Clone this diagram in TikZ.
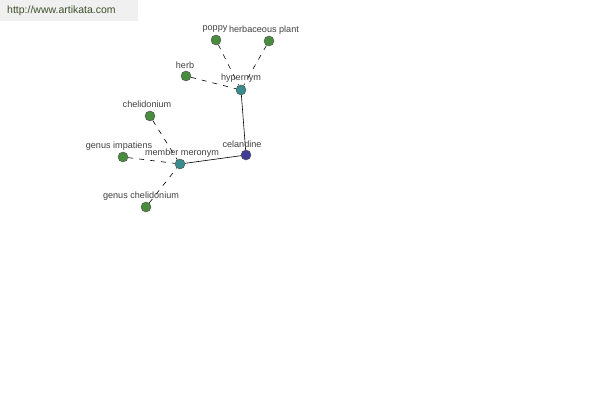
\documentclass[tikz,border=0pt]{standalone}
\usepackage{fontspec}
\setmainfont{Liberation Sans}
\definecolor{ngreen}{RGB}{74,140,62}
\definecolor{nteal}{RGB}{58,140,140}
\definecolor{nblue}{RGB}{62,62,150}
\definecolor{urlc}{RGB}{60,80,40}
\begin{document}
\begin{tikzpicture}[x=1pt,y=-1pt,
  dot/.style={circle,draw=black!70,line width=0.4pt,minimum size=10pt,inner sep=0pt},
  gdot/.style={dot,fill=ngreen},
  tdot/.style={dot,fill=nteal},
  bdot/.style={dot,fill=nblue},
  lab/.style={font=\fontsize{9.1}{9.5}\selectfont,text=black!75,inner sep=0pt},
  dline/.style={dashed,dash pattern=on 5pt off 6pt,black,line width=0.6pt},
  sline/.style={black,line width=0.6pt}]
\useasboundingbox (0,0) rectangle (600,400);
\fill[black!6] (0,0) rectangle (138,21);
\node[font=\fontsize{10.5}{11}\selectfont,text=urlc,anchor=west,inner sep=0pt] (url) at (7,11) {http://www.artikata.com};
\node[gdot] (poppy) at (216,40) {};
\node[gdot] (herbp) at (269,41) {};
\node[gdot] (herb) at (186,76) {};
\node[gdot] (chel) at (150,116) {};
\node[gdot] (gimp) at (123,157) {};
\node[gdot] (gchel) at (146,207) {};
\node[tdot] (hyp) at (241,90) {};
\node[tdot] (mm) at (180,164) {};
\node[bdot] (cel) at (246,155) {};
\draw[dline] (poppy) -- (hyp);
\draw[dline] (herbp) -- (hyp);
\draw[dline] (herb) -- (hyp);
\draw[dline] (chel) -- (mm);
\draw[dline] (gimp) -- (mm);
\draw[dline] (gchel) -- (mm);
\draw[sline] (hyp) -- (cel);
\draw[sline] (mm) -- (cel);
\node[lab] (lpoppy) at (215,29) {poppy};
\node[lab] (lherbp) at (264,30) {herbaceous plant};
\node[lab] (lherb) at (185,65) {herb};
\node[lab] (lhyp) at (241,78) {hypernym};
\node[lab] (lchel) at (147,104) {chelidonium};
\node[lab] (lgimp) at (119,146) {genus impatiens};
\node[lab] (lmm) at (182,153) {member meronym};
\node[lab] (lcel) at (242,144) {celandine};
\node[lab] (lgchel) at (141,196) {genus chelidonium};
\end{tikzpicture}
\end{document}
